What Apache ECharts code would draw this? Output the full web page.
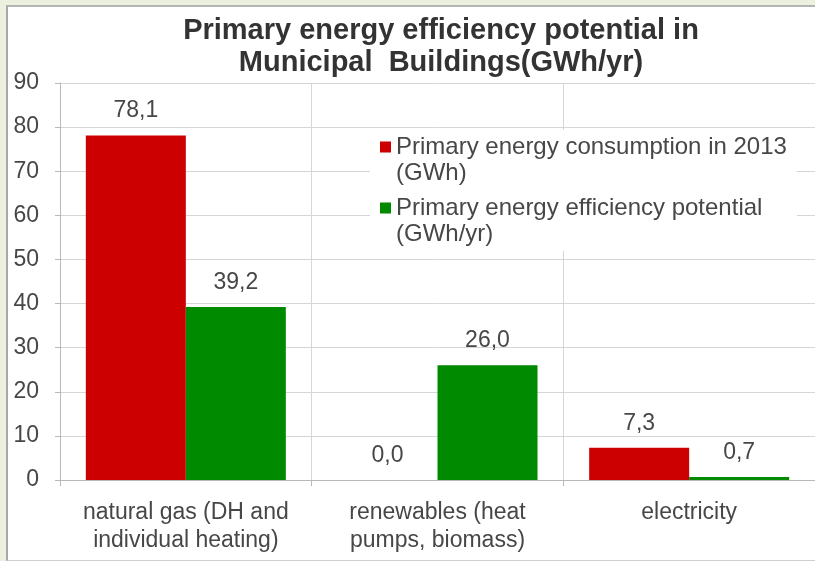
<!DOCTYPE html>
<html>
<head>
<meta charset="utf-8">
<script src="https://cdn.jsdelivr.net/npm/echarts@6/dist/echarts.min.js"></script>
<style>
  html, body { margin: 0; padding: 0; background: #ebf0df; }
  #frame {
    position: absolute; left: 6px; top: 5px;
    width: 809px; height: 553px;
    background: #fff;
    border-left: 2px solid #a8a8a8;
    border-top: 2px solid #b4b4b4;
    border-bottom: 1px solid #d0d0d0;
  }
  #chart { width: 807px; height: 551px; }
</style>
</head>
<body>
<div id="frame"><div id="chart"></div></div>
<script>
// categories and values
var categories = [
  'natural gas (DH and\nindividual heating)',
  'renewables (heat\npumps, biomass)',
  'electricity'
];
var consumption2013 = [78.1, 0.0, 7.3];
var efficiencyPotential = [39.2, 26.0, 0.7];
var seriesNames = [
  'Primary energy consumption in 2013\n(GWh)',
  'Primary energy efficiency potential\n(GWh/yr)'
];
var yMin = 0, yMax = 90, yStep = 10;

var gridColor = '#d6d6d6';
var textColor = '#474747';
var fontFamily = '"Liberation Sans", Arial, sans-serif';

// square at the top of a tall box so the marker sits on the first text line
var legendIcon = 'path://M0,0h11v11h-11z M0,36.9h0.05v0.1h-0.05z';

var chart = echarts.init(document.getElementById('chart'));

function commaLabel(p) {
  return p.value.toFixed(1).replace('.', ',');
}

var option = {
  animation: false,
  title: {
    text: 'Primary energy efficiency potential in\nMunicipal  Buildings(GWh/yr)',
    left: 433,
    top: 8,
    padding: 0,
    textAlign: 'center',
    textStyle: {
      fontFamily: fontFamily,
      fontSize: 29,
      fontWeight: 'bold',
      lineHeight: 32,
      color: '#333'
    }
  },
  legend: {
    orient: 'vertical',
    left: 362,
    top: 123,
    padding: [4, 10, 4, 10],
    itemGap: 9,
    itemWidth: 11,
    itemHeight: 37,
    icon: legendIcon,
    backgroundColor: '#fff',
    data: seriesNames,
    textStyle: {
      fontFamily: fontFamily,
      fontSize: 24,
      lineHeight: 26,
      color: textColor
    }
  },
  grid: {
    left: 52,
    right: -4,
    top: 76,
    bottom: 78,
    containLabel: false
  },
  xAxis: {
    type: 'category',
    data: categories,
    axisLine: { lineStyle: { color: '#b8b8b8' } },
    axisTick: { show: true, length: 6, lineStyle: { color: '#b8b8b8' } },
    splitLine: { show: true, lineStyle: { color: gridColor } },
    axisLabel: {
      margin: 19,
      fontFamily: fontFamily,
      fontSize: 23,
      lineHeight: 28,
      color: textColor,
      interval: 0
    }
  },
  yAxis: {
    type: 'value',
    min: yMin,
    max: yMax,
    interval: yStep,
    axisLine: { show: true, lineStyle: { color: '#b8b8b8' } },
    axisTick: { show: true, length: 5, lineStyle: { color: '#b8b8b8' } },
    splitLine: { lineStyle: { color: gridColor } },
    axisLabel: {
      margin: 21,
      fontFamily: fontFamily,
      fontSize: 23,
      color: textColor
    }
  },
  series: [
    {
      name: seriesNames[0],
      type: 'bar',
      data: consumption2013,
      barWidth: 100,
      barGap: '0%',
      itemStyle: { color: '#cc0000' },
      label: {
        show: true,
        position: 'top',
        distance: 13,
        formatter: commaLabel,
        fontFamily: fontFamily,
        fontSize: 23,
        color: textColor
      }
    },
    {
      name: seriesNames[1],
      type: 'bar',
      data: efficiencyPotential,
      barWidth: 100,
      barGap: '0%',
      itemStyle: { color: '#008a00' },
      label: {
        show: true,
        position: 'top',
        distance: 13,
        formatter: commaLabel,
        fontFamily: fontFamily,
        fontSize: 23,
        color: textColor
      }
    }
  ]
};

chart.setOption(option);
</script>
</body>
</html>
